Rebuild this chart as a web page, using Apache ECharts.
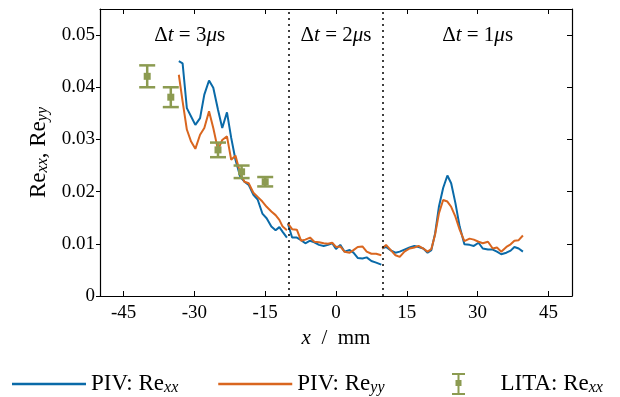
<!DOCTYPE html>
<html>
<head>
<meta charset="utf-8">
<script src="https://cdn.jsdelivr.net/npm/echarts@6/dist/echarts.min.js"></script>
<style>
    html, body { margin: 0; padding: 0; background: #fff; }
    #chart { width: 620px; height: 397px; }
</style>
</head>
<body>
<div id="chart"></div>
<script>
// PIV, dt = 3us
var xsLeft = [-33.3, -32.5, -31.6, -30.7, -29.8, -28.8, -27.9, -26.9, -26.0, -25.0, -24.1, -23.1, -22.2,
    -21.3, -20.3, -19.4, -18.5, -17.5, -16.6, -15.6, -14.7, -13.7, -12.8, -12.0, -11.3, -10.4];
var rexxLeft = [0.0450, 0.0446, 0.0360, 0.0344, 0.0328, 0.0341, 0.0386, 0.0413, 0.0399, 0.0357, 0.0322, 0.0352, 0.0303,
    0.0261, 0.0229, 0.0219, 0.0213, 0.0194, 0.0185, 0.0158, 0.0149, 0.0133, 0.0126, 0.0132, 0.0123, 0.0112];
var reyyLeft = [0.0424, 0.0373, 0.0319, 0.0296, 0.0282, 0.0309, 0.0322, 0.0354, 0.0322, 0.0280, 0.0299, 0.0306, 0.0261,
    0.0269, 0.0235, 0.0219, 0.0216, 0.0198, 0.0190, 0.0181, 0.0171, 0.0162, 0.0155, 0.0146, 0.0133, 0.0126];

// PIV, dt = 2us
var xsMid = [-10.2, -9.3, -8.3, -7.4, -6.5, -5.5, -4.6, -3.6, -2.6, -1.7, -0.8, 0.0, 0.9, 1.8, 2.9,
    3.7, 4.6, 5.6, 6.5, 7.5, 8.5, 9.6];
var rexxMid = [0.0139, 0.0112, 0.0112, 0.0107, 0.0101, 0.0106, 0.0103, 0.0098, 0.0096, 0.0098, 0.0101, 0.0090, 0.0098,
    0.0085, 0.0088, 0.0083, 0.0073, 0.0072, 0.0074, 0.0067, 0.0064, 0.0060];
var reyyMid = [0.0139, 0.0128, 0.0127, 0.0106, 0.0108, 0.0112, 0.0104, 0.0103, 0.0101, 0.0100, 0.0102, 0.0094, 0.0095,
    0.0085, 0.0083, 0.0088, 0.0094, 0.0095, 0.0085, 0.0081, 0.0081, 0.0078];

// PIV, dt = 1us
var xsRight = [9.8, 10.6, 11.7, 12.6, 13.5, 14.5, 15.6, 16.6, 17.5, 18.5, 19.4, 20.2, 21.0, 21.8, 22.7, 23.6, 24.4,
    25.3, 26.2, 27.2, 28.3, 29.2, 30.2, 31.1, 32.2, 33.2, 34.1, 35.0, 36.1, 37.0, 37.8, 38.7, 39.6];
var rexxRight = [0.0091, 0.0094, 0.0087, 0.0083, 0.0085, 0.0089, 0.0093, 0.0096, 0.0094, 0.0091, 0.0083, 0.0088, 0.0120,
    0.0171, 0.0207, 0.0231, 0.0216, 0.0178, 0.0133, 0.0099, 0.0098, 0.0096, 0.0102, 0.0091, 0.0089, 0.0089, 0.0085,
    0.0080, 0.0083, 0.0087, 0.0094, 0.0091, 0.0085];
var reyyRight = [0.0091, 0.0098, 0.0087, 0.0078, 0.0075, 0.0085, 0.0091, 0.0093, 0.0096, 0.0091, 0.0085, 0.0090, 0.0118,
    0.0158, 0.0184, 0.0181, 0.0171, 0.0152, 0.0127, 0.0105, 0.0110, 0.0108, 0.0104, 0.0101, 0.0104, 0.0091, 0.0093,
    0.0085, 0.0094, 0.0099, 0.0106, 0.0107, 0.0116];

// LITA
var litaX = [-40, -35, -25, -20, -15];
var litaY = [0.0421, 0.0381, 0.0280, 0.0238, 0.0219];
var litaErr = [0.0021, 0.0019, 0.0014, 0.0012, 0.0009];

var xTicks = [-45, -30, -15, 0, 15, 30, 45];
var yTicks = [0, 0.01, 0.02, 0.03, 0.04, 0.05];
var dtLines = [-10, 10];
var dtLabels = [
    { x: -31, text: '3' },
    { x: 0, text: '2' },
    { x: 30, text: '1' }
];

var azul = '#0a6aa8';
var naranja = '#d9661f';
var verde = '#8c9b51';
var fuente = 'Liberation Serif';

function tramos(xs, ys) {
    return xs.map(function (x, i) { return [x, ys[i]]; });
}
// une los tramos dejando un hueco (null) entre ellos
function unir(lista) {
    var out = [];
    lista.forEach(function (t, i) {
        if (i > 0) out.push([t[0][0] - 0.05, null]);
        out = out.concat(t);
    });
    return out;
}

var dataXX = unir([tramos(xsLeft, rexxLeft), tramos(xsMid, rexxMid), tramos(xsRight, rexxRight)]);
var dataYY = unir([tramos(xsLeft, reyyLeft), tramos(xsMid, reyyMid), tramos(xsRight, reyyRight)]);
var dataLita = litaX.map(function (x, i) { return [x, litaY[i], litaErr[i]]; });

function richTxt(size) {
    var sub = Math.round(size * 0.7);
    return {
        r: { fontFamily: fuente, fontSize: size, color: '#000' },
        i: { fontFamily: fuente, fontSize: size, fontStyle: 'italic', color: '#000' },
        s: { fontFamily: fuente, fontSize: sub, fontStyle: 'italic', color: '#000', verticalAlign: 'bottom', lineHeight: sub }
    };
}

function fmtLeyenda(name) {
    var p = name.split('_');
    return '{r|' + p[0] + '}{s|' + p[1] + '}';
}

var lineaIcon = 'path://M0,0H74V2.5H0Z';
var barraIcon = 'path://M0,0H13V2H7.5V7H9.5V13H7.5V20H13V22H0V20H5.5V13H3.5V7H5.5V2H0Z';

var baseLeyenda = {
    top: 372,
    padding: 0,
    itemWidth: 74,
    itemHeight: 22,
    selectedMode: false,
    formatter: fmtLeyenda,
    textStyle: { rich: richTxt(23), lineHeight: 24 }
};

var chart = echarts.init(document.getElementById('chart'));

var option = {
    animation: false,
    backgroundColor: '#fff',
    grid: { left: 100, right: 48, top: 9, bottom: 101 },
    legend: [
        Object.assign({}, baseLeyenda, {
            left: 12,
            itemGap: 40,
            data: [
                { name: 'PIV: Re_xx', icon: lineaIcon },
                { name: 'PIV: Re_yy', icon: lineaIcon }
            ]
        }),
        Object.assign({}, baseLeyenda, {
            left: 452,
            data: [{ name: 'LITA: Re_xx', icon: barraIcon }]
        })
    ],
    xAxis: [{
        type: 'value',
        min: -50,
        max: 50,
        position: 'bottom',
        axisLine: { onZero: false, lineStyle: { color: '#000', width: 1.2 } },
        axisTick: { inside: true, length: 5, customValues: xTicks, lineStyle: { color: '#000' } },
        axisLabel: {
            customValues: xTicks,
            fontFamily: fuente, fontSize: 19, color: '#000', margin: 8
        },
        splitLine: { show: false },
        name: '{i|x}{r|  /  mm}',
        nameLocation: 'middle',
        nameGap: 31,
        nameTextStyle: { rich: richTxt(21) }
    }, {
        type: 'value',
        min: -50,
        max: 50,
        position: 'top',
        axisLine: { onZero: false, lineStyle: { color: '#000', width: 1.2 } },
        axisTick: { inside: true, length: 5, customValues: xTicks, lineStyle: { color: '#000' } },
        axisLabel: { show: false },
        splitLine: { show: false }
    }],
    yAxis: [{
        type: 'value',
        min: 0,
        max: 0.055,
        position: 'left',
        axisLine: { onZero: false, lineStyle: { color: '#000', width: 1.2 } },
        axisTick: { inside: false, length: 4, customValues: yTicks, lineStyle: { color: '#000' } },
        axisLabel: {
            customValues: yTicks,
            fontFamily: fuente, fontSize: 19, color: '#000', margin: 5,
            formatter: function (v) { return v === 0 ? '0' : v.toFixed(2); }
        },
        splitLine: { show: false },
        name: '{r|Re}{s|xx}{r|, Re}{s|yy}',
        nameLocation: 'middle',
        nameGap: 46,
        nameRotate: 90,
        nameTextStyle: { rich: richTxt(23) }
    }, {
        type: 'value',
        min: 0,
        max: 0.055,
        position: 'right',
        axisLine: { onZero: false, lineStyle: { color: '#000', width: 1.2 } },
        axisTick: { inside: true, length: 5, customValues: yTicks, lineStyle: { color: '#000' } },
        axisLabel: { show: false },
        splitLine: { show: false }
    }],
    series: [{
        name: 'PIV: Re_xx',
        type: 'line',
        data: dataXX,
        symbol: 'none',
        connectNulls: false,
        color: azul,
        lineStyle: { color: azul, width: 2 },
        markLine: {
            silent: true,
            symbol: 'none',
            label: { show: false },
            lineStyle: { color: '#000', type: [2, 4], width: 1.5 },
            data: dtLines.map(function (x) { return { xAxis: x }; })
        }
    }, {
        name: 'PIV: Re_yy',
        type: 'line',
        data: dataYY,
        symbol: 'none',
        connectNulls: false,
        color: naranja,
        lineStyle: { color: naranja, width: 2 },
        markPoint: {
            silent: true,
            symbolSize: 0,
            data: dtLabels.map(function (d) {
                return {
                    coord: [d.x, 0.0500],
                    label: {
                        show: true,
                        position: 'inside',
                        formatter: '{r|Δ}{i|t}{r| = ' + d.text + '}{i|μ}{r|s}',
                        rich: richTxt(21)
                    }
                };
            })
        }
    }, {
        name: 'LITA: Re_xx',
        type: 'custom',
        data: dataLita,
        encode: { x: 0, y: 1 },
        itemStyle: { color: verde },
        color: verde,
        z: 5,
        renderItem: function (params, api) {
            var x = api.value(0), y = api.value(1), e = api.value(2);
            var p = api.coord([x, y]);
            var top = api.coord([x, y + e]);
            var bot = api.coord([x, y - e]);
            var w = 8;
            var st = { stroke: verde, lineWidth: 2.5 };
            return {
                type: 'group',
                children: [
                    { type: 'line', shape: { x1: p[0], y1: top[1], x2: p[0], y2: bot[1] }, style: st },
                    { type: 'line', shape: { x1: p[0] - w, y1: top[1], x2: p[0] + w, y2: top[1] }, style: st },
                    { type: 'line', shape: { x1: p[0] - w, y1: bot[1], x2: p[0] + w, y2: bot[1] }, style: st },
                    { type: 'rect', shape: { x: p[0] - 3.5, y: p[1] - 3.5, width: 7, height: 7 }, style: { fill: verde } }
                ]
            };
        }
    }]
};

chart.setOption(option);
</script>
</body>
</html>
